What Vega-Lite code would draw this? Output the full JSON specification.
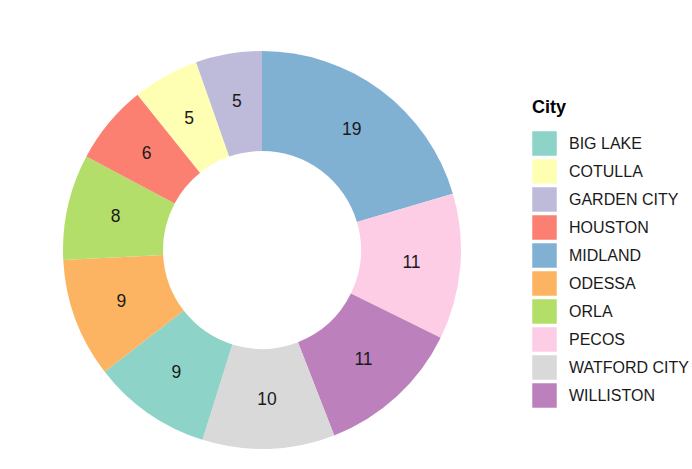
{
  "$schema": "https://vega.github.io/schema/vega-lite/v6.json",
  "width": 524,
  "height": 438,
  "autosize": {"type": "none"},
  "padding": {"top": 31, "left": 0, "right": 168, "bottom": 0},
  "background": "white",
  "config": {"view": {"stroke": null}, "font": "Liberation Sans"},
  "data": {
    "values": [
      {"City": "MIDLAND", "count": 19},
      {"City": "PECOS", "count": 11},
      {"City": "WILLISTON", "count": 11},
      {"City": "WATFORD CITY", "count": 10},
      {"City": "BIG LAKE", "count": 9},
      {"City": "ODESSA", "count": 9},
      {"City": "ORLA", "count": 8},
      {"City": "HOUSTON", "count": 6},
      {"City": "COTULLA", "count": 5},
      {"City": "GARDEN CITY", "count": 5}
    ]
  },
  "layer": [
    {
      "mark": {"type": "arc", "radius": 199, "radius2": 99, "stroke": null},
      "encoding": {
        "theta": {"field": "count", "type": "quantitative", "stack": true},
        "order": {"field": "count", "type": "quantitative", "sort": "descending"},
        "color": {
          "field": "City",
          "type": "nominal",
          "scale": {
            "domain": ["BIG LAKE", "COTULLA", "GARDEN CITY", "HOUSTON", "MIDLAND", "ODESSA", "ORLA", "PECOS", "WATFORD CITY", "WILLISTON"],
            "range": ["#8dd3c7", "#ffffb3", "#bebada", "#fb8072", "#80b1d3", "#fdb462", "#b3de69", "#fccde5", "#d9d9d9", "#bc80bd"]
          },
          "legend": {
            "orient": "none",
            "legendX": 532,
            "legendY": 68,
            "title": "City",
            "titleFontSize": 18,
            "titleFontWeight": "bold",
            "titleColor": "#000000",
            "titlePadding": 14,
            "symbolType": "square",
            "symbolSize": 600,
            "symbolStrokeWidth": 0,
            "symbolOpacity": 1,
            "labelFontSize": 16,
            "labelColor": "#1a1a1a",
            "labelOffset": 12,
            "rowPadding": 3,
            "labelLimit": 300
          }
        }
      }
    },
    {
      "mark": {"type": "text", "radius": 150, "fontSize": 17.5, "color": "#1a1a1a", "baseline": "middle"},
      "encoding": {
        "theta": {"field": "count", "type": "quantitative", "stack": true},
        "order": {"field": "count", "type": "quantitative", "sort": "descending"},
        "detail": {"field": "City", "type": "nominal"},
        "text": {"field": "count", "type": "quantitative"}
      }
    }
  ]
}
